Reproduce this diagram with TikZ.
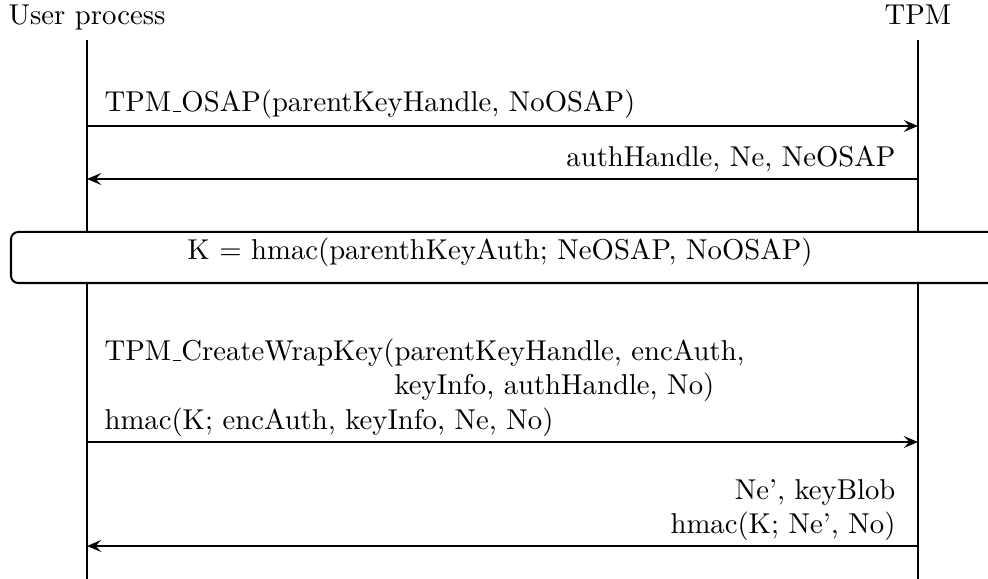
\documentclass[tikz,border=0pt]{standalone}
\usetikzlibrary{arrows.meta}
\newcommand\myus{\leavevmode\kern.06em\vbox{\hrule width.3em}}
\tikzset{
  lifeline/.style={line width=0.55pt},
  msg/.style={line width=0.6pt,-{Stealth[length=5pt,width=4.2pt,inset=2pt]}},
  kboxstyle/.style={line width=0.7pt,rounded corners=2.5pt,fill=white},
  lbl/.style={inner sep=0pt},
}
\begin{document}
\begin{tikzpicture}[x=0.3484pt,y=-0.3484pt]
\useasboundingbox (0,0) rectangle (988,579);
% headings
\node[lbl,anchor=base] (up) at (87,25) {User process};
\node[lbl,anchor=base] (tpm) at (918,25) {TPM};
% lifelines
\coordinate (ut) at (87,40);
\coordinate (ub) at (87,579);
\coordinate (tt) at (918,40);
\coordinate (tb) at (918,579);
\draw[lifeline] (ut) -- (ub);
\draw[lifeline] (tt) -- (tb);
% message 1
\coordinate (m1l) at (87,126);
\coordinate (m1r) at (918,126);
\draw[msg] (m1l) -- (m1r);
\node[lbl,anchor=base west] (t1) at (104,112) {TPM\myus OSAP(parentKeyHandle, NoOSAP)};
% message 2
\coordinate (m2l) at (87,179);
\coordinate (m2r) at (918,179);
\draw[msg] (m2r) -- (m2l);
\node[lbl,anchor=base east] (t2) at (896,167) {authHandle, Ne, NeOSAP};
% box
\draw[kboxstyle] (11,232) rectangle (1000,283);
\node[lbl,anchor=base] (kt) at (500,260) {K = hmac(parenthKeyAuth; NeOSAP, NoOSAP)};
% message 3
\coordinate (m3l) at (87,442);
\coordinate (m3r) at (918,442);
\draw[msg] (m3l) -- (m3r);
\node[lbl,anchor=base west] (t3a) at (104,361) {TPM\myus CreateWrapKey(parentKeyHandle, encAuth,};
\node[lbl,anchor=base west] (t3b) at (104,395) {\phantom{TPM\myus CreateWrapKey(}keyInfo, authHandle, No)};
\node[lbl,anchor=base west] (t3c) at (104,430) {hmac(K; encAuth, keyInfo, Ne, No)};
% message 4
\coordinate (m4l) at (87,546);
\coordinate (m4r) at (918,546);
\draw[msg] (m4r) -- (m4l);
\node[lbl,anchor=base east] (t4a) at (896,500) {Ne', keyBlob};
\node[lbl,anchor=base east] (t4b) at (896,534) {hmac(K; Ne', No)};
\end{tikzpicture}
\end{document}
